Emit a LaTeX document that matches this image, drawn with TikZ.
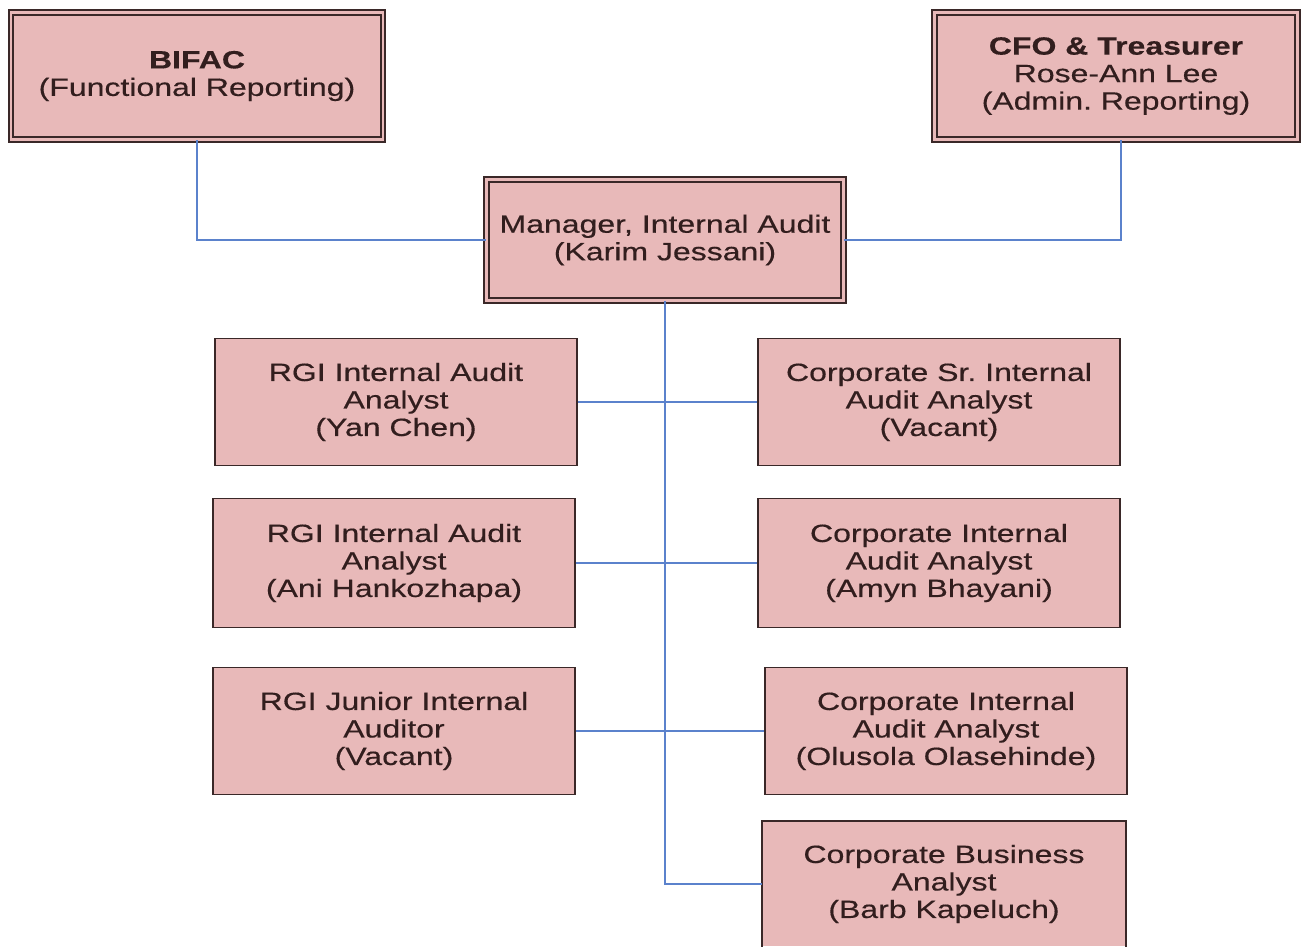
\documentclass[tikz,border=0pt]{standalone}
\usepackage{fontspec}
\setmainfont[FakeStretch=1.28,FakeBold=0.4]{Liberation Sans}
\frenchspacing
\definecolor{boxfill}{RGB}{232,185,185}
\definecolor{boxline}{RGB}{58,40,40}
\definecolor{txt}{RGB}{50,30,30}
\definecolor{conn}{RGB}{91,130,204}
\tikzset{
  box/.style={draw=boxline, fill=boxfill, line width=1.8pt, text=txt, align=center,
    minimum width=362pt, minimum height=127pt, inner sep=0pt,
    font=\fontsize{25}{27.5}\selectfont\frenchspacing},
  dbox/.style={box, double=boxfill, double distance=2.6pt, line width=1.8pt},
  link/.style={draw=conn, line width=1.5pt}
}
\begin{document}
\begin{tikzpicture}[x=1pt,y=-1pt]
\useasboundingbox (0,0) rectangle (1309,947);
\clip (0,0) rectangle (1309,947);
\node[dbox, minimum width=372pt, minimum height=127pt] (bifac) at (197,76) {\textbf{BIFAC}\\(Functional Reporting)};
\node[dbox, minimum width=363pt, minimum height=127pt] (cfo) at (1116,76) {\textbf{CFO \& Treasurer}\\Rose-Ann Lee\\(Admin. Reporting)};
\node[dbox, minimum width=357pt, minimum height=121pt] (mgr) at (665,240) {Manager, Internal Audit\\(Karim Jessani)};
\node[box] (r1) at (396,402) {RGI Internal Audit\\Analyst\\(Yan Chen)};
\node[box] (c1) at (939,402) {Corporate Sr. Internal\\Audit Analyst\\(Vacant)};
\node[box, minimum height=129pt] (r2) at (394,563) {RGI Internal Audit\\Analyst\\(Ani Hankozhapa)};
\node[box, minimum height=129pt] (c2) at (939,563) {Corporate Internal\\Audit Analyst\\(Amyn Bhayani)};
\node[box] (r3) at (394,731) {RGI Junior Internal\\Auditor\\(Vacant)};
\node[box] (c3) at (946,731) {Corporate Internal\\Audit Analyst\\(Olusola Olasehinde)};
\node[box, draw=none, minimum height=124pt] (cb) at (944,884) {Corporate Business\\Analyst\\(Barb Kapeluch)};
\fill[boxfill] (cb.south west) rectangle ([yshift=-30pt]cb.south east);
\draw[boxline, line width=1.8pt] ([yshift=-30pt]cb.south west) -- (cb.north west) -- (cb.north east) -- ([yshift=-30pt]cb.south east);
\draw[link] (bifac.south) |- (mgr.west);
\draw[link] ([xshift=5pt]cfo.south) |- (mgr.east);
\draw[link] (mgr.south) |- (cb.west);
\draw[link] (r1.east) -- (c1.west);
\draw[link] (r2.east) -- (c2.west);
\draw[link] (r3.east) -- (c3.west);
\end{tikzpicture}
\end{document}
